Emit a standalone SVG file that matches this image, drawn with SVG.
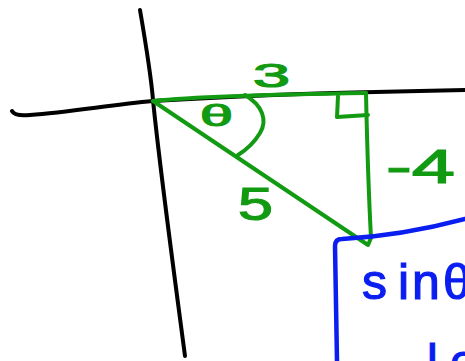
<svg xmlns="http://www.w3.org/2000/svg" width="465" height="361" viewBox="0 0 465 361">
<style>
.ink{fill:none;stroke-linecap:round;stroke-linejoin:round}
.k{stroke:#000;stroke-width:4}
.g{stroke:#129a12;stroke-width:4}
.b{stroke:#0a1ef0;stroke-width:4.5}
.tg{fill:#129a12;stroke:#129a12;stroke-width:1.2;font-family:"Liberation Sans",Arial,sans-serif}
.tb{fill:#0a1ef0;stroke:#0a1ef0;stroke-width:1.2;font-family:"Liberation Sans",Arial,sans-serif}
</style>
<rect width="465" height="361" fill="#fff"/>
<g id="axes">
<path class="ink k" d="M140,10 C146,45 151,75 153,100 C160,170 175,280 185,356"/>
<path class="ink k" d="M12,111 C14,115 20,116 30,115 C70,112 110,105 153,101 C250,95 350,92 465,90"/>
</g>
<g id="triangle">
<path class="ink g" d="M153,101 C200,96 300,94 366,93"/>
<path class="ink g" d="M366,93 C367,140 369,200 371,238 L368,245 L153,101"/>
<path class="ink g" d="M368,115 L337,117 L338,96"/>
<path class="ink g" d="M245,95 C262,105 268,120 260,133 C254,143 246,150 238,155"/>
</g>
<g id="labels">
<text class="tg" x="253" y="87" font-size="33" textLength="37" lengthAdjust="spacingAndGlyphs">3</text>
<text class="tg" x="200" y="126" font-size="30" textLength="33" lengthAdjust="spacingAndGlyphs">θ</text>
<text class="tg" x="386" y="183" font-size="48" textLength="69" lengthAdjust="spacingAndGlyphs">-4</text>
<text class="tg" x="238" y="220" font-size="46" textLength="35" lengthAdjust="spacingAndGlyphs">5</text>
</g>
<g id="box">
<path class="ink b" d="M337,361 L335,246 Q335,239 342,239 C380,237 420,231 465,219"/>
<text class="tb" x="362 398 412 443" y="299" font-size="50">sinθ</text>
<text class="tb" x="427 450" y="378" font-size="48">le</text>
</g>
</svg>
